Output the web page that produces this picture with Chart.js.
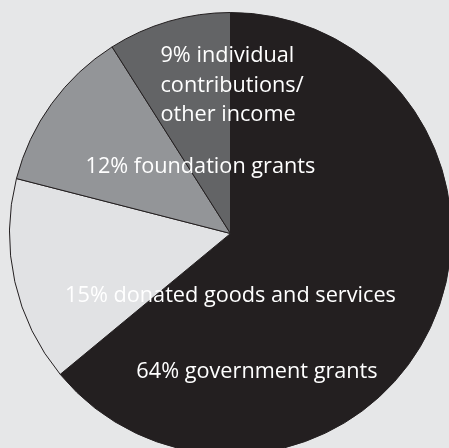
<!DOCTYPE html>
<html>
<head>
<meta charset="utf-8">
<script src="https://cdn.jsdelivr.net/npm/chart.js@4/dist/chart.umd.min.js"></script>
<style>
  html, body { margin: 0; padding: 0; width: 449px; height: 448px; overflow: hidden; background: #e6e7e8; }
  #wrap { position: absolute; left: 9px; top: 12px; width: 443px; height: 443px; }
</style>
</head>
<body>
<div id="wrap"><canvas id="c"></canvas></div>
<script>
const categories = ["government grants", "donated goods and services", "foundation grants", "individual contributions/ other income"];
const values = [64, 15, 12, 9];
const sliceColors = ["#231f20", "#e1e2e4", "#939598", "#636466"];
const labelLines = [
  ["64% government grants"],
  ["15% donated goods and services"],
  ["12% foundation grants"],
  ["9% individual", "contributions/", "other income"]
];

const labelPlugin = {
  id: 'sliceLabels',
  afterDatasetsDraw(chart) {
    const ctx = chart.ctx;
    const arc = chart.getDatasetMeta(0).data[0];
    const cx = arc.x, cy = arc.y, r = arc.outerRadius;
    const anchors = [
      { dx: 0.12, dy: 0.652, align: 'center' },
      { dx: 0.0, dy: 0.312, align: 'center' },
      { dx: -0.136, dy: -0.276, align: 'center' },
      { dx: -0.317, dy: -0.774, align: 'left' }
    ];
    ctx.save();
    ctx.fillStyle = '#ffffff';
    ctx.font = '21.7px "Open Sans", sans-serif';
    ctx.textBaseline = 'alphabetic';
    labelLines.forEach((lines, i) => {
      const a = anchors[i];
      ctx.textAlign = a.align;
      lines.forEach((t, j) => {
        ctx.fillText(t, cx + a.dx * r, cy + a.dy * r + j * 29.5);
      });
    });
    ctx.restore();
  }
};

new Chart(document.getElementById('c'), {
  type: 'pie',
  data: {
    labels: categories,
    datasets: [{
      data: values,
      backgroundColor: sliceColors,
      borderColor: '#231f20',
      borderWidth: 1
    }]
  },
  options: {
    responsive: true,
    maintainAspectRatio: false,
    animation: false,
    layout: { padding: 0 },
    plugins: { legend: { display: false }, tooltip: { enabled: false } }
  },
  plugins: [labelPlugin]
});
</script>
</body>
</html>
